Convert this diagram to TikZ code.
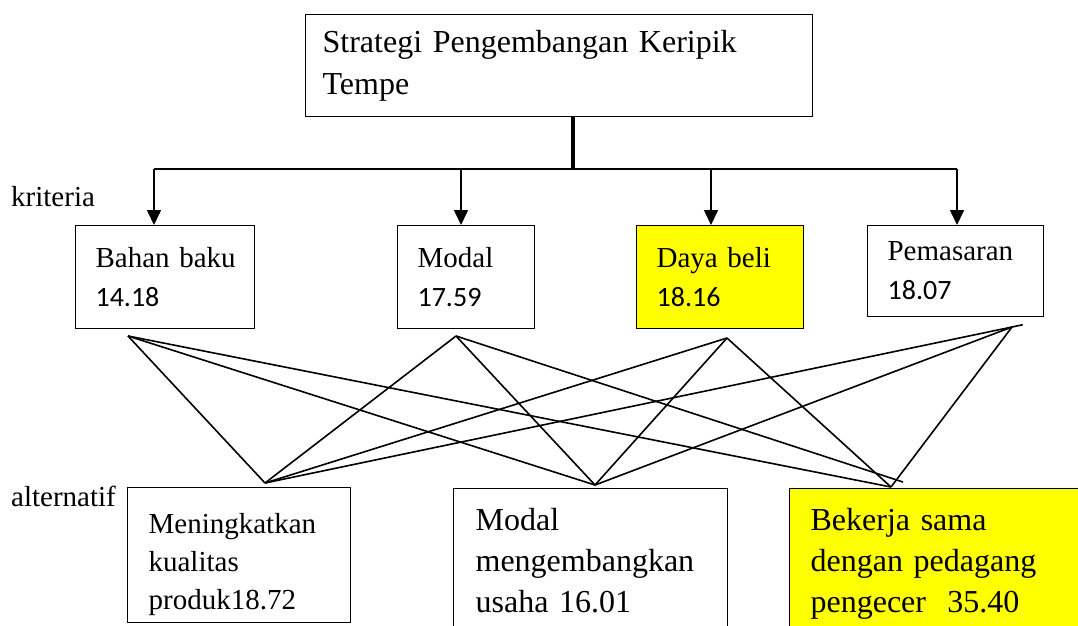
\documentclass[tikz,border=0pt]{standalone}
\usepackage{fontspec}
\setmainfont{Liberation Serif}
\newfontfamily\angkafont{Carlito}
\usepackage{tikz}
\usetikzlibrary{arrows.meta, positioning, calc}
\definecolor{sorotkuning}{RGB}{255, 255, 0}

\newcommand{\angka}{\angkafont\fontsize{28}{39}\selectfont}

\tikzset{
    kotak/.style={draw, line width=1.2pt, rectangle, align=left, anchor=north west, inner ysep=0pt},
    judulbox/.style={kotak, inner xsep=17pt, font=\fontsize{32}{42}\selectfont},
    kriteriabox/.style={kotak, inner xsep=20pt, minimum height=103pt, font=\fontsize{29}{39}\selectfont},
    alternatifbox/.style={kotak, font=\fontsize{32}{41}\selectfont},
    labelteks/.style={anchor=base west, inner sep=0pt, font=\fontsize{29}{35}\selectfont},
    garis/.style={line width=1.6pt},
    panah/.style={line width=1.6pt, -{Triangle[width=14pt, length=15pt]}},
    batang/.style={line width=3.5pt}
}

\begin{document}
\begin{tikzpicture}[x=1pt, y=-1pt]
    \useasboundingbox (0,0) rectangle (1078,625);
    \clip (0,0) rectangle (1078,625);

    % tujuan
    \node[judulbox, text width=473pt, minimum height=102pt] (strategi) at (305,14) {Strategi Pengembangan Keripik\\Tempe};

    % kriteria
    \node[labelteks] (labelkriteria) at (11,206) {kriteria};
    \node[kriteriabox, text width=139pt] (bahan) at (75,225) {Bahan~baku\\\angka 14.18};
    \node[kriteriabox, text width=97pt] (modal) at (397,225) {Modal\\\angka 17.59};
    \node[kriteriabox, text width=127pt, fill=sorotkuning] (daya) at (636,225) {Daya~beli\\\angka 18.16};
    \node[kriteriabox, text width=136pt, minimum height=91pt] (pemasaran) at (867,225) {Pemasaran\\\angka 18.07};

    % alternatif
    \node[labelteks] (labelalternatif) at (11,506) {alternatif};
    \node[alternatifbox, inner xsep=21pt, text width=181pt, minimum height=135pt,
          font=\fontsize{29}{38}\selectfont] (kualitas) at (127,487) {\rule{0pt}{38pt}Meningkatkan\\kualitas\\produk18.72};
    \node[alternatifbox, inner xsep=22pt, text width=230pt, minimum height=144pt] (usaha) at (453,488) {Modal\\mengembangkan\\usaha 16.01};
    \node[alternatifbox, inner xsep=21pt, text width=280pt, minimum height=150pt,
          fill=sorotkuning] (pengecer) at (789,488) {Bekerja sama\\dengan pedagang\\pengecer~ 35.40};

    % percabangan
    \coordinate (cabang) at (573,169);
    \coordinate (bahan-panah) at (154,169);
    \coordinate (modal-panah) at (461,169);
    \coordinate (daya-panah) at (711,169);
    \coordinate (pemasaran-panah) at (957,169);
    \draw[batang] (strategi.south -| cabang) -- (cabang);
    \draw[line width=2.5pt] (bahan-panah) -- (pemasaran-panah);
    \foreach \k in {bahan, modal, daya, pemasaran}
        \draw[panah] (\k-panah) -- (\k-panah |- \k.north);

    % titik hubung
    \coordinate (bahan-titik) at (128,336);
    \coordinate (modal-titik) at (456,336);
    \coordinate (daya-titik) at (727,338);
    \coordinate (pemasaran-titik) at (1012,327);
    \coordinate (kualitas-titik) at (265,483);
    \coordinate (usaha-titik) at (595,485);
    \coordinate (pengecer-titik) at (891,487);
    \coordinate (pengecer-ujung) at (903,482);

    \foreach \k/\a in {bahan/kualitas, bahan/usaha, bahan/pengecer,
                       modal/kualitas, modal/usaha,
                       daya/kualitas, daya/usaha, daya/pengecer,
                       pemasaran/usaha, pemasaran/pengecer}
        \draw[garis] (\k-titik) -- (\a-titik);
    \draw[garis] (modal-titik) -- (pengecer-ujung);
    \draw[garis, shorten <=-11pt] (pemasaran-titik) -- (kualitas-titik);
\end{tikzpicture}
\end{document}
